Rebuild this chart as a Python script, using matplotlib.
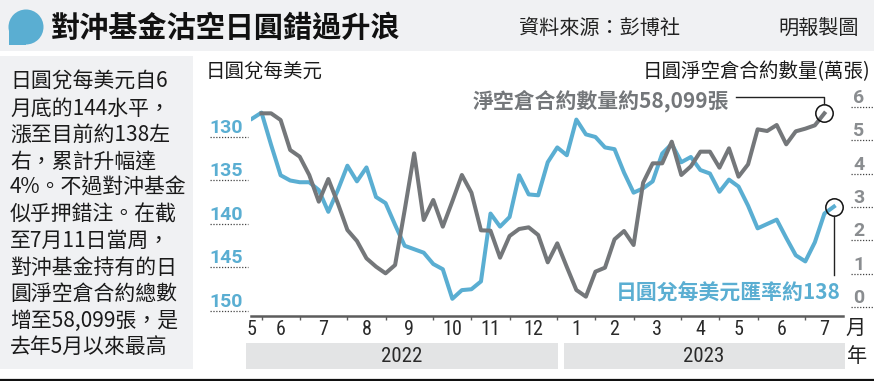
import matplotlib
matplotlib.use('Agg')
import matplotlib.pyplot as plt
from matplotlib import font_manager
from matplotlib.patches import Rectangle, Circle
from matplotlib.lines import Line2D
import matplotlib.transforms as mtrans

# ---------------- data ----------------
# USD/JPY weekly (index 0 .. 61)
usdjpy = [127.9, 127.2, 130.9, 134.4, 135.0, 135.2, 135.2, 136.1, 138.6, 136.1,
          133.3, 135.1, 133.5, 136.9, 137.6, 140.1, 142.5, 142.9, 143.3, 144.6,
          145.2, 148.6, 147.6, 147.5, 146.6, 138.8, 140.3, 139.2, 134.4, 136.6,
          136.7, 132.9, 131.2, 132.1, 128.0, 129.7, 130.0, 131.2, 131.4, 134.1,
          136.4, 135.9, 135.1, 131.9, 130.8, 132.9, 132.3, 133.8, 134.2, 136.3,
          134.9, 135.7, 137.9, 140.5, 140.0, 139.5, 141.6, 143.6, 144.3, 142.1,
          138.8, 138.0]
# JPY net short contracts (10k), weekly index 1 .. 60
shorts = [5.81, 5.81, 5.61, 4.71, 4.51, 3.96, 3.16, 3.84, 3.11, 2.31,
          1.98, 1.46, 1.21, 1.01, 1.26, 2.90, 4.61, 2.61, 3.21, 2.41,
          3.17, 3.96, 3.43, 2.30, 2.29, 1.48, 2.13, 2.34, 2.39, 2.16,
          1.34, 1.91, 1.20, 0.51, 0.31, 1.06, 1.18, 2.03, 2.28, 1.86,
          3.73, 4.31, 4.31, 4.96, 3.96, 4.22, 4.66, 4.66, 4.18, 4.76,
          3.91, 4.28, 5.33, 5.28, 5.46, 4.88, 5.27, 5.35, 5.45, 5.8099]
usd_x = list(range(len(usdjpy)))
short_x = list(range(1, len(shorts) + 1))

month_bounds = [1, 5, 10, 14, 19, 23, 27, 32, 36, 40, 45, 49, 53, 58]
month_labels = ['5', '6', '7', '8', '9', '10', '11', '12', '1', '2', '3', '4', '5', '6', '7']
years = ['2022', '2023']
left_ticks = [130, 135, 140, 145, 150]
right_ticks = [0, 1, 2, 3, 4, 5, 6]

title = '對沖基金沽空日圓錯過升浪'
source = '資料來源：彭博社'
credit = '明報製圖'
left_title = '日圓兌每美元'
right_title = '日圓淨空倉合約數量(萬張)'
gray_note = '淨空倉合約數量約58,099張'
blue_note = '日圓兌每美元匯率約138'
body = ['日圓兌每美元自6', '月底的144水平，', '漲至目前約138左', '右，累計升幅達',
        '4%。不過對沖基金', '似乎押錯注。在截', '至7月11日當周，', '對沖基金持有的日',
        '圓淨空倉合約總數', '增至58,099張，是', '去年5月以來最高']

# ---------------- style ----------------
W, H = 874, 381
BLUE = '#5aaed2'
GRAY = '#74777a'
GRAY_LBL = '#8a8d90'
BG = '#f0f1f3'

avail = {f.name for f in font_manager.fontManager.ttflist}
CJK = 'Noto Sans CJK TC'
NUM = 'Roboto' if 'Roboto' in avail else 'DejaVu Sans'
COND = next((f for f in ['Roboto Condensed', 'Liberation Sans Narrow', 'Open Sans Condensed']
             if f in avail), NUM)
plt.rcParams['font.family'] = [CJK, 'DejaVu Sans']

fig = plt.figure(figsize=(W / 100, H / 100), dpi=100)

# decoration canvas in pixel coordinates (y downward)
bg = fig.add_axes([0, 0, 1, 1], zorder=0)
bg.set_xlim(0, W)
bg.set_ylim(H, 0)
bg.axis('off')

bg.add_patch(Rectangle((0, 0), W, 51, color=BG, lw=0))
bg.add_patch(Circle((26, 27), 17.5, color=BLUE, lw=0))
bg.add_patch(Rectangle((8.5, 27), 17.5, 17.5, color=BLUE, lw=0))
bg.text(51, 28, title, fontsize=21, fontweight='bold', color='#111', va='center', ha='left',
        family=[CJK])
bg.text(519, 28, source, fontsize=14.5, color='#222', va='center', ha='left', family=[CJK])
bg.text(859, 28, credit, fontsize=14.5, color='#222', va='center', ha='right', family=[CJK])

# left text box
bg.add_patch(Rectangle((0, 56), 193, 313, color=BG, lw=0))
for k, line in enumerate(body):
    bg.text(10, 82 + k * 26.5, line, fontsize=15, color='#1a1a1a', va='center', ha='left',
            family=[CJK, 'DejaVu Sans'])

# axis titles
bg.text(206, 71, left_title, fontsize=14, color='#1a1a1a', va='center', ha='left', family=[CJK])
bg.text(870, 72, right_title, fontsize=14, color='#1a1a1a', va='center', ha='right', family=[CJK])

# year boxes
bg.add_patch(Rectangle((246, 343), 312, 26, color='#e3e4e5', lw=0))
bg.add_patch(Rectangle((564, 343), 281, 26, color='#e3e4e5', lw=0))
bg.text(402, 356, years[0], fontsize=15, color='#2a2a2a', ha='center', va='center', family=[COND])
bg.text(704, 356, years[1], fontsize=15, color='#2a2a2a', ha='center', va='center', family=[COND])
bg.text(856, 328, '月', fontsize=14.5, color='#222', ha='center', va='center', family=[CJK])
bg.text(857, 357, '年', fontsize=14.5, color='#222', ha='center', va='center', family=[CJK])
bg.plot([0, W], [379.5, 379.5], color='#111', lw=1.6, solid_capstyle='butt')

# ---------------- chart ----------------
ax = fig.add_axes([251 / W, 1 - 316 / H, 592 / W, 226 / H], zorder=2)
ax.patch.set_alpha(0)
ax.set_xlim(-0.105, 61.95)
ax.set_ylim(150.575, 124.6)
ax2 = ax.twinx()
ax2.set_ylim(-0.27, 6.51)

for s in ['top', 'left', 'right']:
    ax.spines[s].set_visible(False)
for s in ax2.spines.values():
    s.set_visible(False)
ax.spines['bottom'].set_color('#5c5c5c')
ax.spines['bottom'].set_linewidth(1.8)

ax.plot(usd_x, usdjpy, color=BLUE, lw=2.9, solid_joinstyle='round', zorder=3)
ax2.plot(short_x, shorts, color=GRAY, lw=2.9, solid_joinstyle='round', zorder=3)

# x axis: month boundaries + centred month labels
label_pos = [0] + [(a + b) / 2 for a, b in zip(month_bounds[:-1], month_bounds[1:])] + \
            [(month_bounds[-1] + 62) / 2]
ax.set_xticks(month_bounds)
ax.set_xticklabels([])
ax.set_xticks(label_pos, minor=True)
ax.set_xticklabels(month_labels, minor=True, fontsize=14.5, color='#2a2a2a', family=[COND])
ax.tick_params(axis='x', which='major', direction='out', length=3, width=1, color='#5c5c5c')
ax.tick_params(axis='x', which='minor', length=0, pad=3)

# y axes
ax.set_yticks(left_ticks)
ax.set_yticklabels([str(v) for v in left_ticks], fontsize=14, fontweight='bold', color=BLUE,
                   family=[NUM])
ax.tick_params(axis='y', length=0, pad=5.8)
for t in ax.get_yticklabels():
    t.set_va('bottom')
ax2.set_yticks(right_ticks)
ax2.set_yticklabels([str(v) for v in right_ticks], fontsize=14, fontweight='bold',
                    color=GRAY_LBL, family=[NUM])
ax2.tick_params(axis='y', length=0, pad=7.2)
for t in ax2.get_yticklabels():
    t.set_va('bottom')

# dotted underlines
tl = mtrans.blended_transform_factory(fig.transFigure, ax.transData)
for v in left_ticks:
    ax.add_line(Line2D([210 / W, 248 / W], [v, v], transform=tl, color='#444', lw=0.9,
                       dashes=(1, 1.3), clip_on=False))
tr = mtrans.blended_transform_factory(fig.transFigure, ax2.transData)
for v in right_ticks:
    ax2.add_line(Line2D([851 / W, 873 / W], [v, v], transform=tr, color='#444', lw=0.9,
                        dashes=(1, 1.3), clip_on=False))

# end-point circles
ax.plot(usd_x[-1], usdjpy[-1], 'o', ms=12.5, mfc='none', mec='#111', mew=1.1,
        clip_on=False, zorder=5)
ax2.plot(short_x[-1], shorts[-1], 'o', ms=12.5, mfc='none', mec='#111', mew=1.1,
         clip_on=False, zorder=5)

# annotations anchored to the end points
gx, gy = ax2.transData.transform((short_x[-1], shorts[-1]))
gy = H - gy
bx, by = ax.transData.transform((usd_x[-1], usdjpy[-1]))
by = H - by
bg2 = fig.add_axes([0, 0, 1, 1], zorder=4)
bg2.set_xlim(0, W)
bg2.set_ylim(H, 0)
bg2.axis('off')
bg2.plot([gx - 88, gx, gx], [gy - 16, gy - 16, gy - 9], color='#222', lw=1.0)
bg2.text(gx - 95, gy - 13, gray_note, fontsize=15, fontweight='bold', color=GRAY,
         ha='right', va='center', family=[CJK])
bg2.plot([bx, bx], [by + 9, by + 68], color='#222', lw=1.0)
bg2.text(bx + 7, by + 85, blue_note, fontsize=15, fontweight='bold', color=BLUE,
         ha='right', va='center', family=[CJK])

fig.savefig('out.png', dpi=100)
